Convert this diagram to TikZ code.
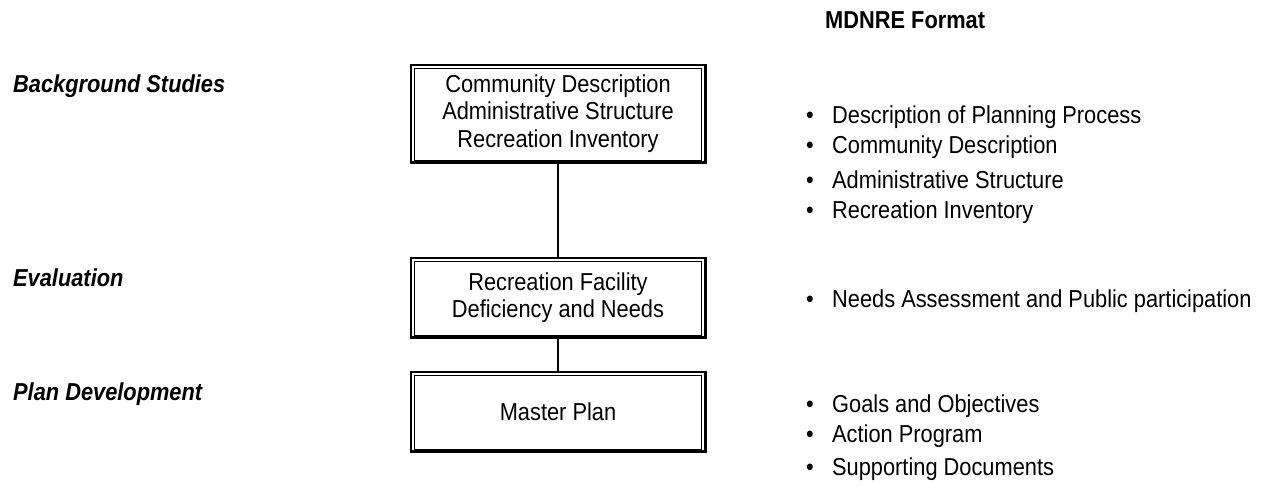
\documentclass[tikz,border=0pt]{standalone}
\usepackage{fontspec}
\setmainfont[FakeStretch=0.89]{Liberation Sans}
\begin{document}
\begin{tikzpicture}[x=1pt,y=-1pt,
  txt/.style={font=\fontsize{24.5}{30}\selectfont, inner sep=0pt},
  stage/.style={txt, font=\fontsize{24.5}{30}\selectfont\bfseries\itshape, anchor=base west},
  item/.style={txt, anchor=base west},
  boxnode/.style={txt, font=\fontsize{24.5}{27.5}\selectfont, align=center, minimum width=294pt},
  outerline/.style={line width=2.6pt},
  innerline/.style={line width=1pt},
  conn/.style={line width=2pt}]
\useasboundingbox (0,0) rectangle (1262,485);
% stage labels
\node[stage] (l1) at (13,92) {Background Studies};
\node[stage] (l2) at (13,286) {Evaluation};
\node[stage] (l3) at (13,400) {Plan Development};
% boxes
\node[boxnode, minimum height=97pt] (b1) at (558,113.5) {Community Description\\Administrative Structure\\Recreation Inventory};
\node[boxnode, minimum height=79pt] (b2) at (558,297.5) {Recreation Facility\\Deficiency and Needs};
\node[boxnode, minimum height=79pt] (b3) at (558,411.5) {Master Plan};
\foreach \n in {b1,b2,b3} {
  \draw[outerline] (\n.south west) rectangle (\n.north east);
  \draw[innerline] ([xshift=3.6pt,yshift=-3.6pt]\n.north west) rectangle ([xshift=-3.6pt,yshift=1.6pt]\n.south east);
}
\draw[conn] (b1.south) -- (b2.north);
\draw[conn] (b2.south) -- (b3.north);
% right column
\node[txt, font=\fontsize{24.5}{30}\selectfont\bfseries, anchor=base west] (fmt) at (825,28) {MDNRE Format};
\newcommand{\bul}{\makebox[26pt][l]{•}}
\node[item] (i1) at (806,123) {\bul Description of Planning Process};
\node[item] (i2) at (806,153) {\bul Community Description};
\node[item] (i3) at (806,188) {\bul Administrative Structure};
\node[item] (i4) at (806,218) {\bul Recreation Inventory};
\node[item] (i5) at (806,307) {\bul Needs Assessment and Public participation};
\node[item] (i6) at (806,412) {\bul Goals and Objectives};
\node[item] (i7) at (806,442) {\bul Action Program};
\node[item] (i8) at (806,475) {\bul Supporting Documents};
\end{tikzpicture}
\end{document}
